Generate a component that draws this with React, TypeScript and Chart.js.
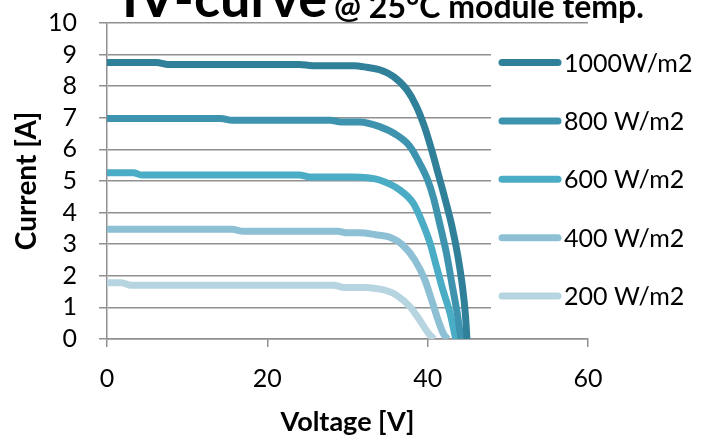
import React, { useEffect, useRef } from "react";
import { Chart, registerables } from "chart.js";

Chart.register(...registerables);

// ---- data ----
const seriesLabels = ["1000W/m2", "800 W/m2", "600 W/m2", "400 W/m2", "200 W/m2"];
const seriesColors = ["#31809A", "#3E94AF", "#4BACC6", "#8DC0D4", "#B7D5E0"];

const voltage1000 = [0, 6.2, 7.5, 24, 25.6, 30.8, 32.4, 34.0, 35.7, 37.4, 38.6, 39.6, 40.5, 41.3, 42.1, 43.0, 43.75, 44.35, 44.7, 44.9];
const current1000 = [8.75, 8.75, 8.69, 8.69, 8.65, 8.65, 8.6, 8.52, 8.31, 7.89, 7.36, 6.72, 5.98, 5.24, 4.5, 3.6, 2.65, 1.64, 0.8, 0];

const voltage800 = [0, 14.2, 15.6, 27.8, 29.2, 31.5, 34.0, 36.1, 37.8, 39.0, 40.0, 40.7, 41.5, 42.35, 43.1, 43.7, 44.15];
const current800 = [6.98, 6.98, 6.92, 6.92, 6.87, 6.87, 6.72, 6.46, 6.09, 5.56, 5.03, 4.49, 3.65, 2.7, 1.64, 0.8, 0];

const voltage600 = [0, 3.3, 4.3, 24.0, 25.2, 30.7, 32.5, 34.0, 36.5, 38.2, 39.2, 40.3, 41.1, 41.9, 42.8, 43.5];
const current600 = [5.26, 5.26, 5.19, 5.19, 5.13, 5.13, 5.1, 5.03, 4.72, 4.3, 3.77, 3.03, 2.29, 1.55, 0.81, 0];

const voltage400 = [0, 15.6, 17.0, 28.8, 30.0, 31.5, 33.5, 35.3, 36.9, 38.4, 39.65, 40.5, 41.3, 42.0, 42.5];
const current400 = [3.47, 3.47, 3.41, 3.41, 3.36, 3.36, 3.3, 3.22, 2.97, 2.5, 1.87, 1.23, 0.6, 0.15, 0];

const voltage200 = [0, 1.8, 3.0, 28.3, 29.6, 32.2, 33.5, 34.6, 36.1, 37.8, 39.0, 40.1, 40.8];
const current200 = [1.78, 1.78, 1.7, 1.7, 1.63, 1.63, 1.6, 1.55, 1.39, 1.02, 0.6, 0.18, 0];

const voltages = [voltage1000, voltage800, voltage600, voltage400, voltage200];
const currents = [current1000, current800, current600, current400, current200];

const titleMain = "IV-curve";
const titleSub = "@ 25°C module temp.";
const xTitle = "Voltage [V]";
const yTitle = "Current [A]";
const xMin = 0, xMax = 60, xStep = 20;
const yMin = 0, yMax = 10, yStep = 1;

const FONT = "Lato";
const GRID = "#909090";

const overlayPlugin = {
  id: "overlay",
  afterDraw(chart: any) {
    const ctx = chart.ctx as CanvasRenderingContext2D;
    ctx.save();
    // legend (white box over plot area, like the original)
    ctx.fillStyle = "#ffffff";
    ctx.fillRect(491, 36, 221, 286);
    chart.data.datasets.forEach((ds: any, i: number) => {
      const y = 62.5 + i * 58.4;
      ctx.strokeStyle = ds.borderColor;
      ctx.lineWidth = 7;
      ctx.lineCap = "round";
      ctx.beginPath();
      ctx.moveTo(502, y);
      ctx.lineTo(558, y);
      ctx.stroke();
      ctx.fillStyle = "#000";
      ctx.font = `25px ${FONT}`;
      ctx.textBaseline = "middle";
      ctx.textAlign = "left";
      ctx.fillText(ds.label, 564, y + 1);
    });
    // title (clipped at top like the reference)
    ctx.fillStyle = "#000";
    ctx.textBaseline = "alphabetic";
    ctx.textAlign = "left";
    ctx.font = `bold 54px ${FONT}`;
    ctx.fillText(titleMain, 122, 17);
    const w = ctx.measureText(titleMain).width;
    ctx.font = `bold 32px ${FONT}`;
    ctx.fillText(titleSub, 122 + w + 7, 18);
    ctx.restore();
  },
};

export default function App() {
  const ref = useRef<HTMLCanvasElement>(null);
  useEffect(() => {
    if (!ref.current) return;
    const datasets = seriesLabels.map((label, i) => ({
      label,
      data: voltages[i].map((v, k) => ({ x: v, y: currents[i][k] })),
      borderColor: seriesColors[i],
      backgroundColor: seriesColors[i],
      borderWidth: 7,
      pointRadius: 0,
      borderJoinStyle: "round" as const,
      borderCapStyle: "butt" as const,
      cubicInterpolationMode: "monotone" as const,
      fill: false,
    }));
    const chart = new Chart(ref.current, {
      type: "line",
      data: { datasets },
      plugins: [overlayPlugin],
      options: {
        animation: false,
        responsive: false,
        maintainAspectRatio: false,
        layout: { padding: { left: 0, top: 23, right: 124, bottom: 0 } },
        plugins: { legend: { display: false }, title: { display: false }, tooltip: { enabled: false } },
        scales: {
          x: {
            type: "linear",
            min: xMin,
            max: xMax,
            afterFit: (s: any) => { s.height = 96; s.paddingLeft = 0; s.paddingRight = 0; },
            ticks: { stepSize: xStep, color: "#000", padding: 17, autoSkip: false, maxRotation: 0, font: { family: FONT, size: 25 } },
            grid: { display: true, drawOnChartArea: false, drawTicks: true, tickLength: 8, color: GRID, lineWidth: 1.5 },
            border: { display: true, color: GRID, width: 1.5 },
            title: { display: true, text: xTitle, color: "#000", font: { family: FONT, size: 27, weight: "bold" }, padding: { top: 0, bottom: -3 } },
          },
          y: {
            type: "linear",
            min: yMin,
            max: yMax,
            afterFit: (s: any) => { s.width = 107; s.paddingTop = 0; s.paddingBottom = 0; },
            ticks: { stepSize: yStep, color: "#000", padding: 22, autoSkip: false, font: { family: FONT, size: 25 } },
            grid: { display: true, drawOnChartArea: true, drawTicks: true, tickLength: 8, color: GRID, lineWidth: 1.5 },
            border: { display: true, color: GRID, width: 1.5 },
            title: { display: true, text: yTitle, color: "#000", font: { family: FONT, size: 28, weight: "bold" }, padding: { top: 10, bottom: 0 } },
          },
        },
      },
    });
    return () => chart.destroy();
  }, []);
  return (
    <div style={{ position: "fixed", left: 0, top: 0, width: 712, height: 435 }}>
      <canvas ref={ref} width={712} height={435} style={{ width: 712, height: 435 }} />
    </div>
  );
}
